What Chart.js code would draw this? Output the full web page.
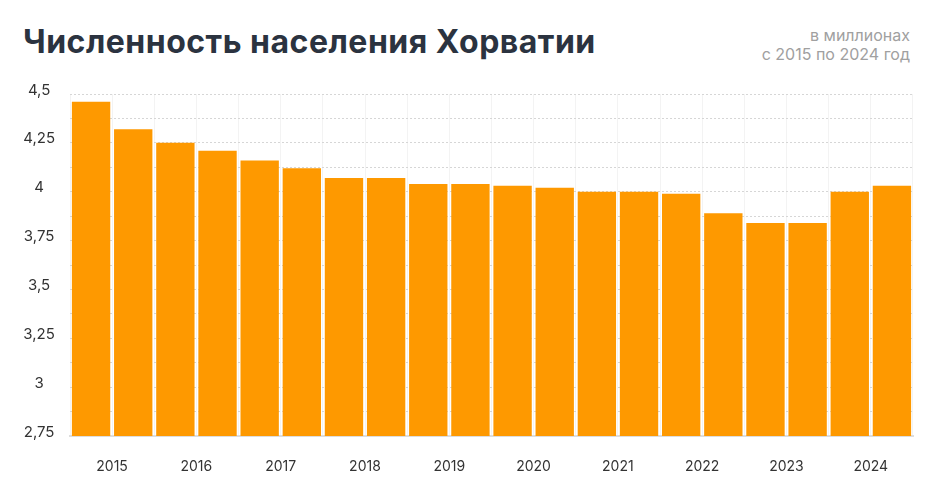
<!DOCTYPE html>
<html lang="ru">
<head>
<meta charset="utf-8">
<script src="https://cdn.jsdelivr.net/npm/chart.js@4.4.1/dist/chart.umd.min.js"></script>
<style>
  html, body { margin: 0; padding: 0; background: #fff; }
  body { width: 935px; height: 486px; position: relative; overflow: hidden; font-family: Inter, "Noto Sans", sans-serif; }
  #title { position: absolute; left: 23px; top: 22px; font-size: 32px; font-weight: 700; color: #2b3340; letter-spacing: 0.5px; }
  #sub { position: absolute; right: 25px; top: 26px; font-size: 16px; line-height: 19px; color: #a0a0a0; text-align: right; }
  #wrap { position: absolute; left: 0; top: 0; width: 935px; height: 486px; }
</style>
</head>
<body>
<div id="title">Численность населения Хорватии</div>
<div id="sub">в миллионах<br>с 2015 по 2024 год</div>
<div id="wrap"><canvas id="chart"></canvas></div>
<script>
  // полугодия, 2 столбца на год
  const periods = [
    '2015-1', '2015-2', '2016-1', '2016-2', '2017-1', '2017-2', '2018-1', '2018-2', '2019-1', '2019-2',
    '2020-1', '2020-2', '2021-1', '2021-2', '2022-1', '2022-2', '2023-1', '2023-2', '2024-1', '2024-2'
  ];
  const yearLabels = ['2015', '2016', '2017', '2018', '2019', '2020', '2021', '2022', '2023', '2024'];
  const population = [
    4.46, 4.32, 4.25, 4.21, 4.16, 4.12, 4.07, 4.07, 4.04, 4.04,
    4.03, 4.02, 4.00, 4.00, 3.99, 3.89, 3.84, 3.84, 4.00, 4.03
  ];
  const Y_MIN = 2.75;
  const Y_MAX = 4.5;

  const ctx = document.getElementById('chart');

  new Chart(ctx, {
    type: 'bar',
    data: {
      labels: periods,
      datasets: [{
        data: population,
        backgroundColor: '#fe9900',
        borderWidth: 0,
        barPercentage: 0.91,
        categoryPercentage: 1.0,
      }]
    },
    options: {
      responsive: true,
      maintainAspectRatio: false,
      animation: false,
      layout: { padding: { top: 94, right: 22, bottom: 10, left: 0 } },
      plugins: { legend: { display: false }, tooltip: { enabled: false } },
      scales: {
        x: {
          afterFit: (scale) => { scale.height = 40; },
          grid: { offset: true, color: '#f3f3f3', drawTicks: false },
          border: { display: true, color: '#dddddd', width: 2 },
          ticks: {
            autoSkip: false,
            maxRotation: 0,
            padding: 22,
            labelOffset: 21,
            color: '#333',
            font: { family: 'Inter', size: 14 },
            callback: (v, i) => (i % 2 === 0 ? yearLabels[i / 2] : ''),
          },
        },
        y: {
          min: Y_MIN,
          max: Y_MAX,
          afterFit: (scale) => { scale.width = 70; },
          grid: { color: '#d6d6d6', drawTicks: false },
          border: { display: false, dash: [2, 2] },
          ticks: {
            stepSize: 0.125,
            padding: 15,
            crossAlign: 'center',
            labelOffset: -4,
            color: '#333',
            font: { family: 'Inter', size: 15 },
            callback: (v) => {
              if (Math.abs(v * 4 - Math.round(v * 4)) > 1e-6) return '';
              return String(Math.round(v * 100) / 100).replace('.', ',');
            },
          },
        },
      },
    },
  });
</script>
</body>
</html>
